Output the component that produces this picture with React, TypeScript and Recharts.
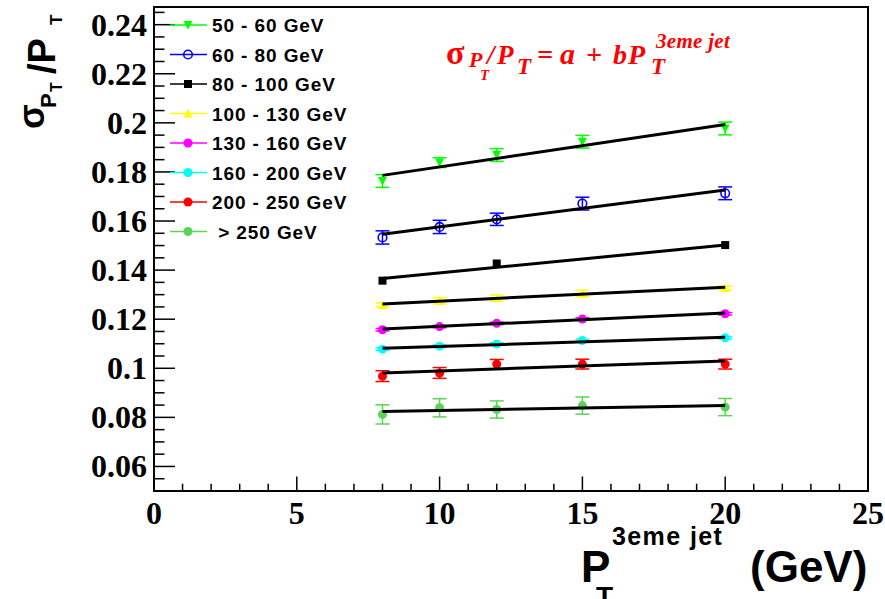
import React from 'react';
import { ComposedChart, Scatter, XAxis, YAxis, ErrorBar, ReferenceArea } from 'recharts';

// pT bins of the leading jets
const ptBins = ['50 - 60 GeV', '60 - 80 GeV', '80 - 100 GeV', '100 - 130 GeV', '130 - 160 GeV', '160 - 200 GeV', '200 - 250 GeV', ' > 250 GeV'];

// 3rd jet pT cut (GeV)
const jetPt = [8, 10, 12, 15, 20];
const jetPtSparse = [8, 12, 20];
const fitPt = [8, 20];

// sigma(pT)/pT per bin, errors, and fitted line end values
const res50 = [0.1763, 0.1838, 0.1869, 0.1923, 0.1977];
const err50 = [0.0026, 0.002, 0.0026, 0.0026, 0.0026];
const fit50 = [0.1786, 0.1993];

const res60 = [0.1533, 0.1576, 0.1607, 0.1671, 0.1713];
const err60 = [0.0027, 0.0027, 0.0025, 0.0026, 0.0026];
const fit60 = [0.1546, 0.1726];

const res80 = [0.1357, 0.1427, 0.1502];
const err80 = [0, 0, 0];
const fit80 = [0.1366, 0.1502];

const res100 = [0.1258, 0.1275, 0.1286, 0.1305, 0.1327];
const err100 = [0.0008, 0.0013, 0.0013, 0.0013, 0.0008];
const fit100 = [0.1262, 0.133];

const res130 = [0.1157, 0.117, 0.1183, 0.1201, 0.1222];
const err130 = [0.0005, 0.0005, 0.0005, 0.0005, 0.0005];
const fit130 = [0.116, 0.1225];

const res160 = [0.1078, 0.109, 0.1099, 0.1113, 0.1124];
const err160 = [0.0005, 0.0005, 0.0005, 0.0005, 0.0005];
const fit160 = [0.1082, 0.1126];

const res200 = [0.0968, 0.0981, 0.1017, 0.1017, 0.1017];
const err200 = [0.0022, 0.0022, 0.0019, 0.002, 0.002];
const fit200 = [0.0981, 0.103];

const res250 = [0.0812, 0.0839, 0.0832, 0.0848, 0.0842];
const err250 = [0.0039, 0.0037, 0.0035, 0.0035, 0.0035];
const fit250 = [0.0824, 0.0848];

const xMajor = [0, 5, 10, 15, 20, 25];
const yMajor = [0.06, 0.08, 0.1, 0.12, 0.14, 0.16, 0.18, 0.2, 0.22, 0.24];
const xTicks = Array.from({ length: 26 }, (_, i) => i);
const yTicks = Array.from({ length: 40 }, (_, i) => +(0.05 + i * 0.005).toFixed(3));
const Y_MIN = 0.05;
const Y_MAX = 0.2472;

const toPoints = (xs: number[], ys: number[], es?: number[]) =>
  xs.map((x, i) => ({ x, y: ys[i], e: es ? es[i] : 0 }));

type MarkerKind = 'down' | 'open' | 'square' | 'up' | 'dot';

const Marker = ({ kind, color, cx, cy }: { kind: MarkerKind; color: string; cx: number; cy: number }) => {
  if (kind === 'down') return <polygon points={`${cx - 4.5},${cy - 4} ${cx + 4.5},${cy - 4} ${cx},${cy + 4.5}`} fill={color} />;
  if (kind === 'up') return <polygon points={`${cx - 4.5},${cy + 4} ${cx + 4.5},${cy + 4} ${cx},${cy - 4.5}`} fill={color} />;
  if (kind === 'square') return <rect x={cx - 4} y={cy - 4} width={8} height={8} fill={color} />;
  if (kind === 'open') return <circle cx={cx} cy={cy} r={4.3} fill="none" stroke={color} strokeWidth={1.6} />;
  return <circle cx={cx} cy={cy} r={4.5} fill={color} />;
};

const series = [
  { name: ptBins[0], color: '#00ff00', kind: 'down' as MarkerKind, data: toPoints(jetPt, res50, err50), fit: toPoints(fitPt, fit50) },
  { name: ptBins[1], color: '#0000ff', kind: 'open' as MarkerKind, data: toPoints(jetPt, res60, err60), fit: toPoints(fitPt, fit60) },
  { name: ptBins[2], color: '#000000', kind: 'square' as MarkerKind, data: toPoints(jetPtSparse, res80, err80), fit: toPoints(fitPt, fit80) },
  { name: ptBins[3], color: '#ffff00', kind: 'up' as MarkerKind, data: toPoints(jetPt, res100, err100), fit: toPoints(fitPt, fit100) },
  { name: ptBins[4], color: '#ff00ff', kind: 'dot' as MarkerKind, data: toPoints(jetPt, res130, err130), fit: toPoints(fitPt, fit130) },
  { name: ptBins[5], color: '#00ffff', kind: 'dot' as MarkerKind, data: toPoints(jetPt, res160, err160), fit: toPoints(fitPt, fit160) },
  { name: ptBins[6], color: '#ff0000', kind: 'dot' as MarkerKind, data: toPoints(jetPt, res200, err200), fit: toPoints(fitPt, fit200) },
  { name: ptBins[7], color: '#59d454', kind: 'dot' as MarkerKind, data: toPoints(jetPt, res250, err250), fit: toPoints(fitPt, fit250) },
];

const tickFont = { fontFamily: '"Liberation Serif", serif', fontWeight: 'bold' as const, fontSize: 32, fill: '#000' };

const YTick = (props: any) => {
  const { x, y, payload } = props;
  const major = yMajor.some((v) => Math.abs(v - payload.value) < 1e-6);
  return (
    <g>
      <line x1={x} y1={y} x2={x + (major ? 21 : 10.5)} y2={y} stroke="#000" strokeWidth={1.5} />
      {major && (
        <text x={x - 7} y={y + 11} textAnchor="end" {...tickFont}>
          {String(+payload.value.toFixed(2))}
        </text>
      )}
    </g>
  );
};

const XTick = (props: any) => {
  const { x, y, payload } = props;
  const major = xMajor.includes(payload.value);
  return (
    <g>
      <line x1={x} y1={y} x2={x} y2={y - (major ? 14.5 : 7.3)} stroke="#000" strokeWidth={1.5} />
      {major && (
        <text x={x} y={y + 33} textAnchor="middle" {...tickFont}>
          {payload.value}
        </text>
      )}
    </g>
  );
};

const sans = '"Liberation Sans", Arial, sans-serif';
const serif = '"Liberation Serif", "Times New Roman", serif';

const Overlay = () => (
  <svg width={885} height={599} style={{ position: 'absolute', left: 0, top: 0, pointerEvents: 'none' }}>
    {/* legend */}
    {series.map((s, i) => {
      const cy = 25 + i * 29.5;
      return (
        <g key={s.name}>
          <line x1={170} y1={cy} x2={207} y2={cy} stroke={s.color} strokeWidth={1.5} />
          <Marker kind={s.kind} color={s.color} cx={188} cy={cy} />
          <text x={212} y={cy + 7} fontFamily={sans} fontWeight="bold" fontSize={19} letterSpacing={0.9} fill="#000" style={{ whiteSpace: 'pre' }}>
            {s.name}
          </text>
        </g>
      );
    })}

    {/* y title */}
    <g transform="rotate(-90)" fontFamily={sans} fontWeight="bold" fill="#000">
      <text x={-129} y={44} fontSize={36}>σ</text>
      <text x={-108} y={56} fontSize={22}>P</text>
      <text x={-92} y={62} fontSize={16}>T</text>
      <text x={-74} y={55} fontSize={38}>/P</text>
      <text x={-25} y={62} fontSize={17}>T</text>
    </g>

    {/* x title */}
    <g fontFamily={sans} fontWeight="bold" fill="#000">
      <text x={581} y={582} fontSize={44}>P</text>
      <text x={596} y={606} fontSize={28}>T</text>
      <text x={612} y={545} fontSize={25} letterSpacing={1.4}>3eme jet</text>
      <text x={750} y={582} fontSize={44}>(GeV)</text>
    </g>

    {/* fit formula */}
    <g fontFamily={serif} fontWeight="bold" fontStyle="italic" fill="#ff0000">
      <text x={446} y={64} fontSize={34} fontStyle="normal">σ</text>
      <text x={469} y={67} fontSize={22}>P</text>
      <text x={480} y={80} fontSize={15}>T</text>
      <text x={487} y={64} fontSize={27}>/</text>
      <text x={497} y={64} fontSize={27}>P</text>
      <text x={517} y={74} fontSize={23}>T</text>
      <text x={537} y={64} fontSize={28}>=</text>
      <text x={560} y={64} fontSize={30}>a</text>
      <text x={586} y={64} fontSize={28}>+</text>
      <text x={613} y={64} fontSize={28}>b</text>
      <text x={628} y={64} fontSize={28}>P</text>
      <text x={651} y={74} fontSize={23}>T</text>
      <text x={656} y={48} fontSize={21} letterSpacing={0.3}>3eme jet</text>
    </g>
  </svg>
);

export default function App() {
  return (
    <div style={{ position: 'absolute', left: 0, top: 0, width: 885, height: 599, background: '#fff' }}>
      <ComposedChart width={885} height={599} margin={{ top: 7, right: 17, left: 0, bottom: 0 }}>
        <XAxis
          dataKey="x"
          type="number"
          domain={[0, 25]}
          ticks={xTicks}
          interval={0}
          height={108}
          axisLine={false}
          tickLine={false}
          tickSize={0}
          tickMargin={0}
          tick={<XTick />}
          allowDataOverflow
        />
        <YAxis
          dataKey="y"
          type="number"
          domain={[Y_MIN, Y_MAX]}
          ticks={yTicks}
          interval={0}
          width={154}
          axisLine={false}
          tickLine={false}
          tickSize={0}
          tickMargin={0}
          tick={<YTick />}
          allowDataOverflow
        />
        <ReferenceArea x1={0} x2={25} y1={Y_MIN} y2={Y_MAX} fill="none" stroke="#000" strokeWidth={2} fillOpacity={0} />
        {series.map((s) => (
          <Scatter
            key={s.name}
            name={s.name}
            data={s.data}
            isAnimationActive={false}
            shape={(p: any) => <Marker kind={s.kind} color={s.color} cx={p.cx} cy={p.cy} />}
          >
            <ErrorBar dataKey="e" direction="y" width={7} stroke={s.color} strokeWidth={1.5} />
          </Scatter>
        ))}
        {series.map((s) => (
          <Scatter
            key={s.name + '-fit'}
            data={s.fit}
            isAnimationActive={false}
            line={{ stroke: '#000', strokeWidth: 3 }}
            shape={() => <g />}
          />
        ))}
      </ComposedChart>
      <Overlay />
    </div>
  );
}
